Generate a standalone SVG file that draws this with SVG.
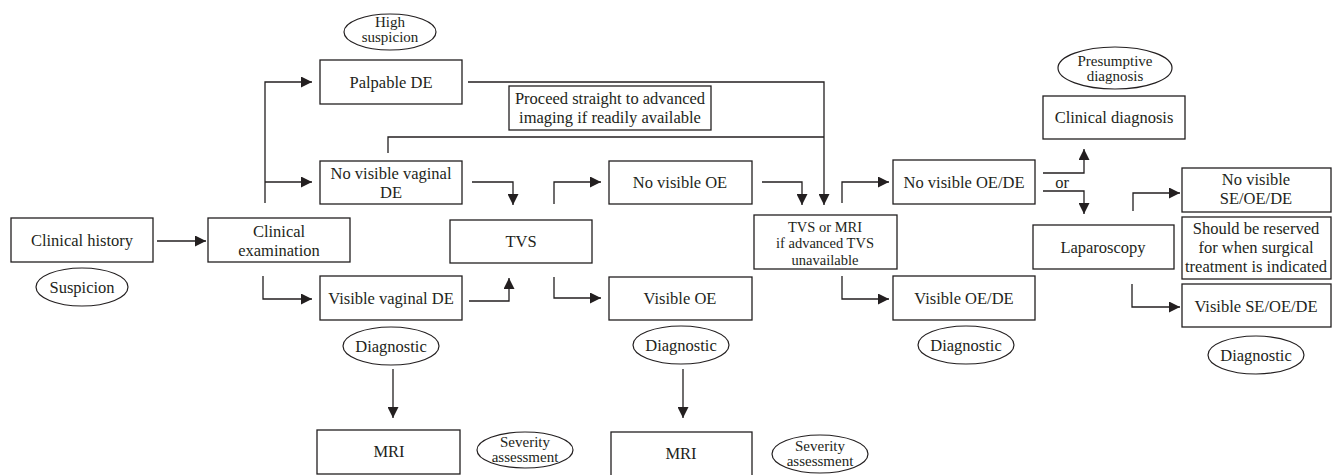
<svg xmlns="http://www.w3.org/2000/svg" width="1335" height="475" viewBox="0 0 1335 475">
<style>
  .box{fill:#fff;stroke:#231f20;stroke-width:1.3}
  .ell{fill:#fff;stroke:#231f20;stroke-width:1.2}
  .t{font-family:"Liberation Serif",Tinos,"Times New Roman",Times,"Noto Serif","DejaVu Serif",FreeSerif,serif;font-size:16.5px;fill:#231f20;text-anchor:middle}
  .s{font-size:15px}
  .m{font-size:14.5px}
  .c{fill:none;stroke:#231f20;stroke-width:1.3}
</style>
<defs>
  <marker id="ah" viewBox="0 0 10 10" refX="10" refY="5" markerWidth="11" markerHeight="11" markerUnits="userSpaceOnUse" orient="auto">
    <path d="M0,0 L10,5 L0,10 z" fill="#231f20"/>
  </marker>
</defs>
<rect width="1335" height="475" fill="#fff"/>

<g id="connectors">
  <path class="c" d="M157,241 H206" marker-end="url(#ah)"/>
  <path class="c" d="M265,203 V82 H312" marker-end="url(#ah)"/>
  <path class="c" d="M265,182 H312" marker-end="url(#ah)"/>
  <path class="c" d="M263,276 V299 H312" marker-end="url(#ah)"/>
  <path class="c" d="M468,82 H824 V205" marker-end="url(#ah)"/>
  <path class="c" d="M388,153 V137 H824"/>
  <path class="c" d="M472,182 H513 V205" marker-end="url(#ah)"/>
  <path class="c" d="M469,301 H509 V278" marker-end="url(#ah)"/>
  <path class="c" d="M554,204 V182 H601" marker-end="url(#ah)"/>
  <path class="c" d="M554,277 V298 H601" marker-end="url(#ah)"/>
  <path class="c" d="M762,182 H802 V205" marker-end="url(#ah)"/>
  <path class="c" d="M842,203 V182 H889" marker-end="url(#ah)"/>
  <path class="c" d="M842,276 V299 H889" marker-end="url(#ah)"/>
  <path class="c" d="M1043,173 H1084 V149" marker-end="url(#ah)"/>
  <path class="c" d="M1043,191 H1084 V214" marker-end="url(#ah)"/>
  <path class="c" d="M1133,211 V193 H1180" marker-end="url(#ah)"/>
  <path class="c" d="M1132,284 V307 H1180" marker-end="url(#ah)"/>
  <path class="c" d="M393,369 V418" marker-end="url(#ah)"/>
  <path class="c" d="M683,369 V418" marker-end="url(#ah)"/>
  <text class="t" x="1062" y="188">or</text>
</g>

<g id="clinical-history">
  <rect class="box" x="11" y="218" width="142" height="44"/>
  <text class="t" x="82" y="246">Clinical history</text>
</g>
<g id="suspicion">
  <ellipse class="ell" cx="82" cy="287" rx="46" ry="19"/>
  <text class="t" x="82" y="293">Suspicion</text>
</g>
<g id="clinical-examination">
  <rect class="box" x="208" y="218" width="142" height="44"/>
  <text class="t" x="279" y="237">Clinical</text>
  <text class="t" x="279" y="256">examination</text>
</g>
<g id="high-suspicion">
  <ellipse class="ell" cx="390" cy="32" rx="46" ry="18"/>
  <text class="t s" x="390" y="27">High</text>
  <text class="t s" x="390" y="42">suspicion</text>
</g>
<g id="palpable-de">
  <rect class="box" x="320" y="60" width="142" height="44"/>
  <text class="t" x="391" y="88">Palpable DE</text>
</g>
<g id="no-visible-vaginal-de">
  <rect class="box" x="320" y="161" width="142" height="43"/>
  <text class="t" x="391" y="179">No visible vaginal</text>
  <text class="t" x="391" y="198">DE</text>
</g>
<g id="visible-vaginal-de">
  <rect class="box" x="320" y="276" width="142" height="44"/>
  <text class="t" x="391" y="304">Visible vaginal DE</text>
</g>
<g id="diagnostic-1">
  <ellipse class="ell" cx="391" cy="346" rx="48" ry="19"/>
  <text class="t" x="391" y="352">Diagnostic</text>
</g>
<g id="mri-1">
  <rect class="box" x="317" y="430" width="143" height="44"/>
  <text class="t" x="389" y="457">MRI</text>
</g>
<g id="severity-1">
  <ellipse class="ell" cx="525" cy="450" rx="48" ry="18"/>
  <text class="t s" x="525" y="447">Severity</text>
  <text class="t s" x="525" y="462">assessment</text>
</g>
<g id="proceed-note">
  <rect class="box" x="509" y="86" width="202" height="44"/>
  <text class="t" x="610" y="104">Proceed straight to advanced</text>
  <text class="t" x="610" y="123">imaging if readily available</text>
</g>
<g id="tvs">
  <rect class="box" x="450" y="220" width="142" height="43"/>
  <text class="t" x="521" y="247">TVS</text>
</g>
<g id="no-visible-oe">
  <rect class="box" x="609" y="161" width="143" height="43"/>
  <text class="t" x="680" y="188">No visible OE</text>
</g>
<g id="visible-oe">
  <rect class="box" x="609" y="277" width="143" height="43"/>
  <text class="t" x="680" y="304">Visible OE</text>
</g>
<g id="diagnostic-2">
  <ellipse class="ell" cx="681" cy="345" rx="48" ry="19"/>
  <text class="t" x="681" y="351">Diagnostic</text>
</g>
<g id="mri-2">
  <rect class="box" x="611" y="432" width="141" height="44"/>
  <text class="t" x="681" y="459">MRI</text>
</g>
<g id="severity-2">
  <ellipse class="ell" cx="820" cy="454" rx="48" ry="19"/>
  <text class="t s" x="820" y="451">Severity</text>
  <text class="t s" x="820" y="466">assessment</text>
</g>
<g id="tvs-or-mri">
  <rect class="box" x="754" y="215" width="143" height="54"/>
  <text class="t m" x="825" y="231.5">TVS or MRI</text>
  <text class="t m" x="825" y="248">if advanced TVS</text>
  <text class="t m" x="825" y="264.5">unavailable</text>
</g>
<g id="no-visible-oe-de">
  <rect class="box" x="893" y="160" width="142" height="44"/>
  <text class="t" x="964" y="188">No visible OE/DE</text>
</g>
<g id="visible-oe-de">
  <rect class="box" x="893" y="276" width="142" height="44"/>
  <text class="t" x="964" y="304">Visible OE/DE</text>
</g>
<g id="diagnostic-3">
  <ellipse class="ell" cx="966" cy="345" rx="48" ry="19"/>
  <text class="t" x="966" y="351">Diagnostic</text>
</g>
<g id="presumptive-diagnosis">
  <ellipse class="ell" cx="1115" cy="68" rx="57" ry="21"/>
  <text class="t s" x="1115" y="66">Presumptive</text>
  <text class="t s" x="1115" y="81">diagnosis</text>
</g>
<g id="clinical-diagnosis">
  <rect class="box" x="1043" y="96" width="142" height="43"/>
  <text class="t" x="1114" y="123">Clinical diagnosis</text>
</g>
<g id="laparoscopy">
  <rect class="box" x="1033" y="225" width="141" height="44"/>
  <text class="t" x="1103" y="253">Laparoscopy</text>
</g>
<g id="no-visible-se-oe-de">
  <rect class="box" x="1182" y="168" width="149" height="44"/>
  <text class="t" x="1256" y="185">No visible</text>
  <text class="t" x="1256" y="204">SE/OE/DE</text>
</g>
<g id="reserved-note">
  <rect class="box" x="1182" y="217" width="149" height="62"/>
  <text class="t" x="1256" y="234">Should be reserved</text>
  <text class="t" x="1256" y="253">for when surgical</text>
  <text class="t" x="1256" y="272">treatment is indicated</text>
</g>
<g id="visible-se-oe-de">
  <rect class="box" x="1182" y="284" width="149" height="43"/>
  <text class="t" x="1256" y="312">Visible SE/OE/DE</text>
</g>
<g id="diagnostic-4">
  <ellipse class="ell" cx="1256" cy="355" rx="48" ry="19"/>
  <text class="t" x="1256" y="361">Diagnostic</text>
</g>
</svg>
